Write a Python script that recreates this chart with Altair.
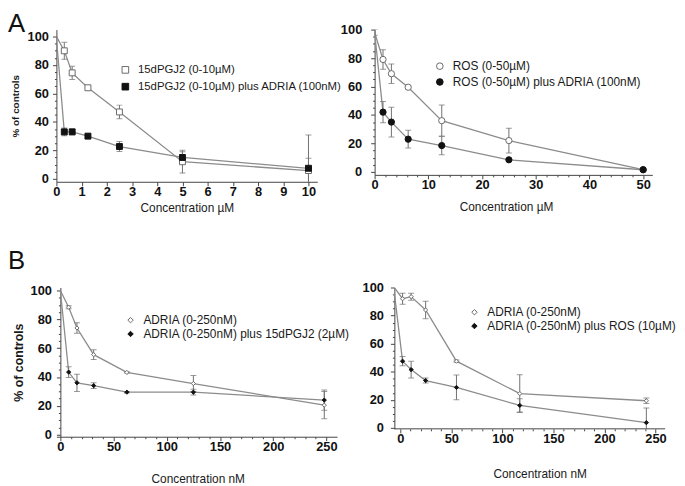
import altair as alt
import pandas as pd

FONT = "Liberation Sans"
LINE = "#8c8c8c"
ERR = "#707070"
DARK = "#111111"
AXIS = "#444444"

# ---------------- Panel A (left): 15dPGJ2 ----------------
a1_names = ["15dPGJ2 (0-10µM)", "15dPGJ2 (0-10µM) plus ADRIA (100nM)"]
a1_x = [0, 0.3125, 0.625, 1.25, 2.5, 5, 10]
a1_y1 = [100, 90, 74.5, 64, 47, 12, 5.8]
a1_e1 = [0, 6, 4.6, 1, 4.8, 8, 8.6]
a1_y2 = [99, 33, 33, 30, 22.7, 15, 7.4]
a1_e2 = [0, 2.8, 2, 1, 3.5, 4, 23.4]
a1_ticks = [0, 1, 2, 3, 4, 5, 6, 7, 8, 9, 10]
a1_major = 1

# ---------------- Panel A (right): ROS ----------------
a2_names = ["ROS (0-50µM)", "ROS (0-50µM) plus ADRIA (100nM)"]
a2_x = [0, 1.5625, 3.125, 6.25, 12.5, 25, 50]
a2_y1 = [98, 79, 69, 59.5, 36, 22, 1.5]
a2_e1 = [2, 6.9, 6.8, 1, 11, 8.7, 0]
a2_y2 = [98, 42, 35, 23, 18.5, 8.5, 1.5]
a2_e2 = [0, 7.5, 10.4, 6.2, 6.5, 0.8, 0]
a2_ticks = list(range(0, 52, 2))
a2_major = 10

# ---------------- Panel B (left): ADRIA + 15dPGJ2 ----------------
b1_names = ["ADRIA (0-250nM)", "ADRIA (0-250nM) plus 15dPGJ2  (2µM)"]
b1_x = [0, 7.8, 15.6, 31.3, 62.5, 125, 248]
b1_y1 = [100, 88.4, 74, 55.5, 43.2, 35.5, 20.5]
b1_e1 = [0, 1, 3.7, 3.4, 0.5, 5.5, 9.4]
b1_y2 = [100, 43.4, 36, 34, 29.5, 29.5, 24]
b1_e2 = [0, 3.7, 6, 2, 0.5, 2, 7]
b1_ticks = list(range(0, 260, 10))
b1_major = 50

# ---------------- Panel B (right): ADRIA + ROS ----------------
b2_names = ["ADRIA (0-250nM)", "ADRIA (0-250nM) plus ROS (10µM)"]
b2_x = [-5.8, 2.2, 10.6, 24.8, 55, 117, 241]
b2_y1 = [100, 92, 93.5, 84, 47.5, 24.4, 19.3]
b2_e1 = [0, 4, 2.5, 6.2, 0.8, 13.5, 2]
b2_y2 = [96, 47.5, 41.5, 33.7, 28.8, 16, 3.7]
b2_e2 = [0, 3.3, 5.9, 1.8, 8.8, 4.7, 10.5]
b2_ticks = list(range(0, 260, 10))
b2_major = 50

y_ticks = list(range(0, 101, 5))
y_major = 20


def build_df(xs, y1, e1, y2, e2, names):
    rows = []
    for ys, es, name in ((y1, e1, names[0]), (y2, e2, names[1])):
        for i, (x, y, e) in enumerate(zip(xs, ys, es)):
            rows.append(dict(x=x, y=y, lo=y - e, hi=y + e, err=e,
                             series=name, idx=i))
    return pd.DataFrame(rows)


def is_major(step):
    return (f"abs(datum.value / {step} - round(datum.value / {step})) < 0.001")


def panel(df, names, shape, msize, lsize, legfont, xdom, xticks, xmajor, ydom,
          width, height, xtitle, ytitle, ytitle_size, ypad_lab, ytpad,
          xtpad, xtitle_x, yoffset, legx, legy, legrow, letter=None,
          letter_y=0, xline=None):
    xsc = alt.Scale(domain=xdom, nice=False, zero=False)
    ysc = alt.Scale(domain=ydom, nice=False, zero=False)
    xm = is_major(xmajor)
    ym = is_major(y_major)
    xaxis = alt.Axis(values=xticks, labelFont=FONT, labelFontWeight="bold",
                     labelFontSize=13, labelColor="#111", titleFont=FONT,
                     titleFontSize=12, titleFontWeight="normal",
                     titleColor="#1a1a1a", domainColor=AXIS,
                     domain=xline is None,
                     labelExpr=f"{xm} ? datum.label : ''",
                     tickColor=AXIS,
                     tickSize={"condition": {"test": xm, "value": 4},
                               "value": 2},
                     labelPadding=0,
                     titlePadding=xtpad, titleX=xtitle_x, grid=False,
                     labelFlush=False, labelOverlap=False)
    yaxis = alt.Axis(values=y_ticks, labelFont=FONT, labelFontWeight="bold",
                     labelFontSize=13, labelColor="#111", titleFont=FONT,
                     titleFontSize=ytitle_size, titleFontWeight="bold",
                     titleColor="#1a1a1a", domainColor=AXIS,
                     labelExpr=f"{ym} ? datum.label : ''",
                     tickColor=AXIS,
                     tickSize={"condition": {"test": ym, "value": 4},
                               "value": 2},
                     labelPadding=ypad_lab, labelOverlap=False,
                     titlePadding=ytpad, grid=False, offset=yoffset)
    X = lambda f: alt.X(f, scale=xsc, axis=xaxis, title=xtitle)
    Y = lambda f: alt.Y(f, scale=ysc, axis=yaxis, title=ytitle)

    base = alt.Chart(df)
    line = base.mark_line(color=LINE, strokeWidth=1.3, clip=True).encode(
        x=X("x:Q"), y=Y("y:Q"), detail="series:N", order="idx:Q")
    errdf = base.transform_filter("datum.err > 0")
    err = errdf.mark_rule(color=ERR, strokeWidth=1, clip=True).encode(
        x=X("x:Q"), y=Y("lo:Q"), y2="hi:Q")
    caps = errdf.transform_fold(["lo", "hi"], as_=["k", "v"]).mark_tick(
        color=ERR, orient="horizontal", size=6, thickness=1, clip=True
    ).encode(x=X("x:Q"), y=Y("v:Q"))

    leg = alt.Legend(title=None, orient="none", legendX=legx, legendY=legy,
                     labelFont=FONT, labelFontSize=legfont,
                     labelColor="#1a1a1a",
                     symbolSize=lsize, labelLimit=400, rowPadding=legrow,
                     labelOffset=7, padding=0, symbolStrokeWidth=1)
    pts = base.transform_filter("datum.idx > 0").mark_point(
        filled=True, opacity=1, size=msize, strokeWidth=1).encode(
        x=X("x:Q"), y=Y("y:Q"),
        shape=alt.Shape("series:N", scale=alt.Scale(domain=names,
                        range=[shape, shape]), legend=leg),
        fill=alt.Fill("series:N", scale=alt.Scale(domain=names,
                      range=["white", DARK]), legend=leg),
        stroke=alt.Stroke("series:N", scale=alt.Scale(domain=names,
                          range=["#6a6a6a", DARK]), legend=leg),
    )
    layers = [line, err, caps, pts]
    if xline is not None:
        # x-axis base line from the data origin to the end of the scale
        ldf = pd.DataFrame({"x0": [xline[0]], "x1": [xline[1]],
                            "y0": [ydom[0]]})
        axl = alt.Chart(ldf).mark_rule(color=AXIS, strokeWidth=1).encode(
            x=X("x0:Q"), x2="x1:Q", y=Y("y0:Q"))
        layers.append(axl)
    if letter:
        lab = alt.Chart(pd.DataFrame({"t": [letter]})).mark_text(
            font=FONT, fontSize=26, color="#111", align="left",
            baseline="top").encode(text="t:N", x=alt.value(-49),
                                   y=alt.value(letter_y))
        layers.append(lab)
    return alt.layer(*layers).properties(width=width, height=height)


pA1 = panel(build_df(a1_x, a1_y1, a1_e1, a1_y2, a1_e2, a1_names), a1_names,
            "square", 36, 45, 11.5, [0, 10.35], a1_ticks, a1_major,
            [-2.1, 104.9], 264, 154, "Concentration µM", "% of controls",
            10, 4, 7, 4, 132, 0, 64, 35, 4, letter="A", letter_y=-19)
pA2 = panel(build_df(a2_x, a2_y1, a2_e1, a2_y2, a2_e2, a2_names), a2_names,
            "circle", 40, 45, 12, [0, 51.7], a2_ticks, a2_major, [-2.1, 100],
            281, 147, "Concentration µM", None, 10, 9, 7, 10, 133,
            0, 60, 31, 4)
pB1 = panel(build_df(b1_x, b1_y1, b1_e1, b1_y2, b1_e2, b1_names), b1_names,
            "diamond", 18, 30, 12, [-3.7, 260], b1_ticks, b1_major,
            [-1.4, 102.05], 284, 151, "Concentration nM", "% of controls",
            12.5, 5, 5, 20, 143, -4, 69, 27, 2, letter="B", letter_y=-40)
pB2 = panel(build_df(b2_x, b2_y1, b2_e1, b2_y2, b2_e2, b2_names), b2_names,
            "diamond", 18, 30, 12, [-25.16, 259.4], b2_ticks, b2_major,
            [-0.7, 100], 294, 143, "Concentration nM", None, 10, 7, 7, 23,
            167, -20, 95, 19, 2, xline=(-5.8, 259.4))

chart = alt.concat(
    pA1, pA2, pB1, pB2, columns=2,
    spacing={"row": 107, "column": 38},
    align="each",
    bounds="flush",
).resolve_scale(
    x="independent", y="independent", shape="independent",
    fill="independent", stroke="independent"
).resolve_legend(
    shape="independent", fill="independent", stroke="independent"
).properties(
    padding=0, background="white"
).configure_view(stroke=None)

chart.save("out.html", embed_options={"renderer": "svg", "actions": False})
